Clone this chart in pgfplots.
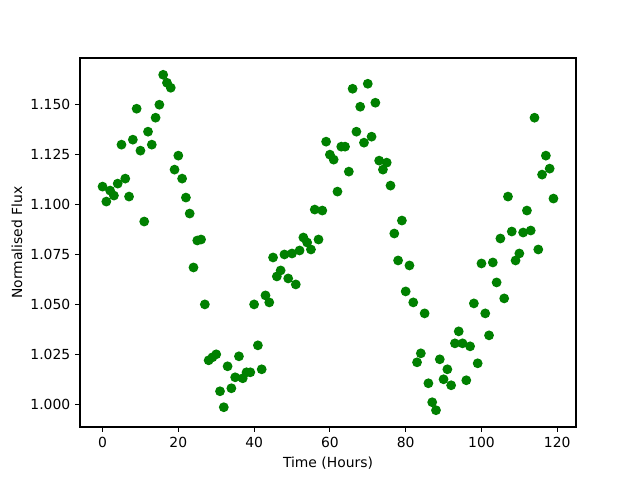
\documentclass[border=0pt]{standalone}
\usepackage{pgfplots}
\pgfplotsset{compat=1.18}
\usepackage{fontspec}
\setmainfont{DejaVu Sans}
\definecolor{mplgreen}{HTML}{008000}
\begin{document}
\begin{tikzpicture}
\begin{axis}[
  at={(0,0)}, anchor=south west,
  scale only axis,
  width=357.12pt, height=265.68pt,
  xmin=-5.95, xmax=124.95,
  ymin=0.9886, ymax=1.1734,
  xtick={0,20,40,60,80,100,120},
  ytick={1.000,1.025,1.050,1.075,1.100,1.125,1.150},
  tick align=outside,
  tick pos=left,
  major tick length=3.5pt,
  every tick/.style={line width=0.8pt, black},
  axis line style={line width=0.8pt},
  /pgf/number format/assume math mode=true,
  yticklabel style={/pgf/number format/.cd, fixed, fixed zerofill, precision=3},
  xticklabel style={/pgf/number format/.cd, fixed},
  tick label style={font=\fontsize{10}{12}\selectfont},
  label style={font=\fontsize{10}{12}\selectfont},
  xlabel={Time (Hours)},
  ylabel={Normalised Flux},
  xlabel style={yshift=0pt},
  ylabel style={yshift=-1pt},
  clip=false,
]
\addplot[only marks, mark=*, mark size=3pt, mark options={solid, fill=mplgreen, draw=mplgreen, line width=1pt}, color=mplgreen] coordinates {
(0,1.109) (1,1.1015) (2,1.107) (3,1.1045) (4,1.1105) (5,1.130) (6,1.113) (7,1.104) (8,1.1325) (9,1.148)
(10,1.127) (11,1.0915) (12,1.1365) (13,1.130) (14,1.1435) (15,1.150) (16,1.165) (17,1.161) (18,1.1585) (19,1.1175)
(20,1.1245) (21,1.113) (22,1.1035) (23,1.0955) (24,1.0685) (25,1.082) (26,1.0825) (27,1.050) (28,1.022) (29,1.0235)
(30,1.025) (31,1.0065) (32,0.9985) (33,1.019) (34,1.008) (35,1.0135) (36,1.024) (37,1.013) (38,1.016) (39,1.016)
(40,1.050) (41,1.0295) (42,1.0175) (43,1.0545) (44,1.051) (45,1.0735) (46,1.064) (47,1.067) (48,1.075) (49,1.063)
(50,1.0755) (51,1.060) (52,1.077) (53,1.0835) (54,1.081) (55,1.0775) (56,1.0975) (57,1.0825) (58,1.097) (59,1.1315)
(60,1.125) (61,1.1225) (62,1.1065) (63,1.129) (64,1.129) (65,1.1165) (66,1.158) (67,1.1365) (68,1.149) (69,1.131)
(70,1.1605) (71,1.134) (72,1.151) (73,1.122) (74,1.1175) (75,1.121) (76,1.1095) (77,1.0855) (78,1.072) (79,1.092)
(80,1.0565) (81,1.0695) (82,1.051) (83,1.021) (84,1.0255) (85,1.0455) (86,1.0105) (87,1.001) (88,0.997) (89,1.0225)
(90,1.0125) (91,1.0175) (92,1.0095) (93,1.0305) (94,1.0365) (95,1.0305) (96,1.012) (97,1.029) (98,1.0505) (99,1.0205)
(100,1.0705) (101,1.0455) (102,1.0345) (103,1.071) (104,1.061) (105,1.083) (106,1.053) (107,1.104) (108,1.0865) (109,1.072)
(110,1.0755) (111,1.086) (112,1.097) (113,1.087) (114,1.1435) (115,1.0775) (116,1.115) (117,1.1245) (118,1.118) (119,1.103)
};
\end{axis}
\useasboundingbox (-57.6pt,-38.16pt) rectangle (403.2pt,307.44pt);
\end{tikzpicture}
\end{document}
